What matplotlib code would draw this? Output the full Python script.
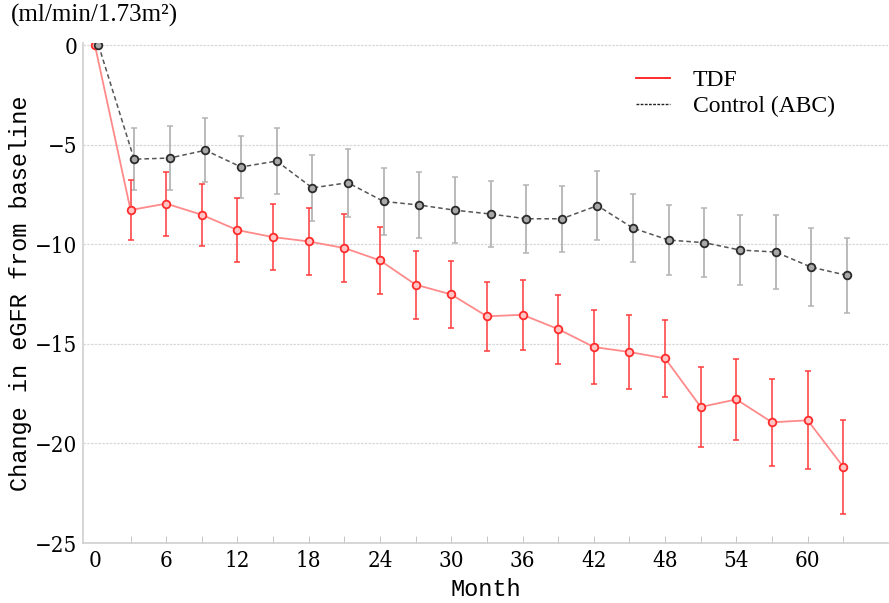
import numpy as np
import matplotlib.pyplot as plt
from matplotlib import font_manager
from matplotlib.lines import Line2D

months = np.arange(0, 64, 3)

tdf_mean = [0, -8.28, -7.96, -8.52, -9.29, -9.64, -9.86, -10.19, -10.81, -12.03, -12.52,
            -13.62, -13.54, -14.26, -15.16, -15.41, -15.73, -18.17, -17.79, -18.94, -18.84, -21.18]
tdf_err = [0, 1.5, 1.6, 1.55, 1.6, 1.65, 1.7, 1.7, 1.7, 1.7, 1.7,
           1.72, 1.75, 1.73, 1.87, 1.87, 1.95, 2.0, 2.02, 2.17, 2.46, 2.37]

abc_mean = [0, -5.73, -5.67, -5.28, -6.12, -5.82, -7.17, -6.91, -7.85, -8.03, -8.29,
            -8.48, -8.72, -8.72, -8.06, -9.19, -9.79, -9.92, -10.29, -10.39, -11.15, -11.56]
abc_err = [0, 1.57, 1.6, 1.6, 1.55, 1.67, 1.66, 1.7, 1.7, 1.67, 1.65,
           1.65, 1.7, 1.65, 1.75, 1.7, 1.74, 1.74, 1.77, 1.85, 1.97, 1.88]

xtick_labels = np.arange(0, 61, 6)
ytick_vals = [0, -5, -10, -15, -20, -25]

# condensed serif for tick digits if we have it
tick_font = font_manager.FontProperties(family='DejaVu Serif', stretch='condensed', size=16)
serif = 'Liberation Serif'

fig = plt.figure(figsize=(8.89, 6.03), dpi=100)
ax = fig.add_axes([0.0934, 0.0995, 0.906, 0.829])

dodge = 0.3
ax.errorbar(months, tdf_mean, yerr=tdf_err, fmt='none', ecolor='#ff3b3b',
            elinewidth=1.1, capsize=2, capthick=1.1, zorder=3)
ax.plot(months, tdf_mean, color='#ff8a8a', lw=1.3, zorder=4)
ax.plot(months, tdf_mean, ls='none', marker='o', ms=5.5, mfc='#ffc4c4',
        mec='#ff2a2a', mew=1.3, zorder=5)

ax.errorbar(months + dodge, abc_mean, yerr=abc_err, fmt='none', ecolor='#b4b4b4',
            elinewidth=1.3, capsize=2, capthick=1.1, zorder=2)
ax.plot(months + dodge, abc_mean, color='#555555', lw=1.1, ls=(0, (3, 2)), zorder=4)
ax.plot(months + dodge, abc_mean, ls='none', marker='o', ms=5.5, mfc='#a8a8a8',
        mec='#2a2a2a', mew=1.3, zorder=5)

ax.set_xlim(-1, 66.8)
ax.set_ylim(-25, 0.1)

ax.set_yticks(ytick_vals)
ax.set_yticklabels([str(v).replace('-', '\u2212') for v in ytick_vals],
                   fontproperties=tick_font)
ax.set_xticks(xtick_labels)
ax.set_xticklabels([str(v) for v in xtick_labels], fontproperties=tick_font)
ax.set_xticks(np.arange(3, 64, 3), minor=True)
ax.xaxis.remove_overlapping_locs = False
ax.tick_params(axis='x', which='major', length=0, pad=5)
ax.tick_params(axis='x', which='minor', length=5, direction='in', color='#bbbbbb')
ax.tick_params(axis='y', length=0, pad=4)

ax.yaxis.grid(True, ls=(0, (2, 1)), color='#d8d8d8', lw=0.9)
ax.set_axisbelow(True)
for s in ['top', 'right']:
    ax.spines[s].set_visible(False)
for s in ['left', 'bottom']:
    ax.spines[s].set_color('#cfcfcf')
    ax.spines[s].set_linewidth(1.2)

ax.set_xlabel('Month', fontfamily='Liberation Mono', fontsize=17, labelpad=4)
ax.set_ylabel('Change in eGFR from baseline', fontfamily='Liberation Mono', fontsize=17,
              labelpad=2)

fig.text(0.012, 0.975, '(ml/min/1.73m\u00b2)', fontfamily=serif, fontsize=18,
         va='center', ha='left')

handles = [Line2D([], [], color='#ff1a1a', lw=1.3),
           Line2D([], [], color='#222222', lw=1.0, ls=(0, (2, 1)))]
ax.legend(handles, ['TDF', 'Control (ABC)'], loc='upper left',
          bbox_to_anchor=(0.66, 0.99), frameon=False,
          prop={'family': serif, 'size': 17}, handlelength=1.45,
          handletextpad=0.95, labelspacing=0.2)

fig.savefig('out.png', dpi=100)
